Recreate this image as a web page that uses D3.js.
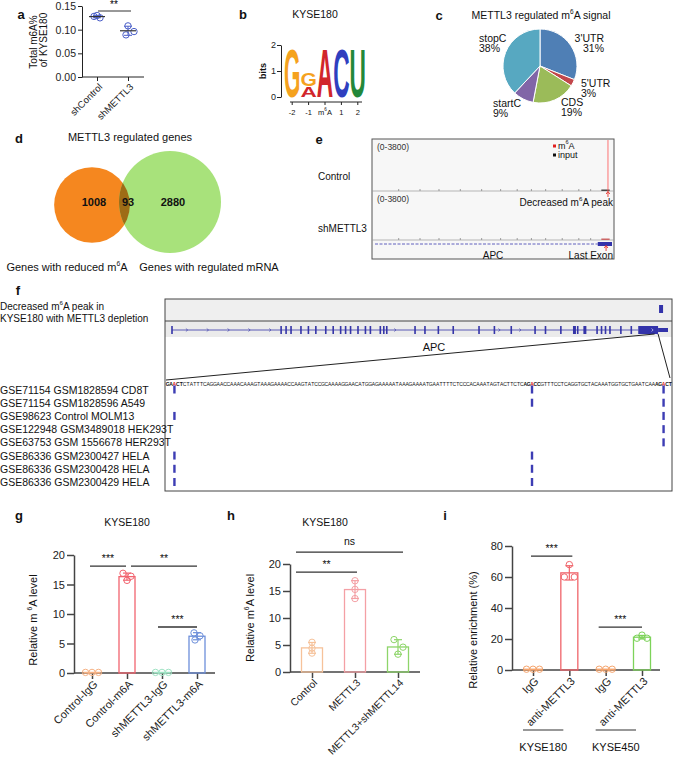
<!DOCTYPE html>
<html>
<head>
<meta charset="utf-8">
<script src="https://cdn.jsdelivr.net/npm/d3@7/dist/d3.min.js"></script>
<style>
  body { margin: 0; background: #fff; }
  text { font-family: "Liberation Sans", Arial, sans-serif; }
</style>
</head>
<body>
<div id="fig"></div>
<script>
// ---- a: total m6A ----
var aGroups = ["shControl", "shMETTL3"];
var aValues = [[0.128, 0.125, 0.130], [0.108, 0.096, 0.089]];
var aTicks = [0, 0.05, 0.10, 0.15];

// ---- b: motif logo ----
var logoPositions = ["-2", "-1", "m{6}A", "1", "2"];
var logoLetters = [["G"], ["A", "G"], ["A"], ["C"], ["U"]];
var logoBits = [[1.93], [0.42, 0.50], [1.93], [1.93], [1.93]];
var logoTicks = [0, 1, 2];

// ---- c: pie ----
var pieNames = ["3'UTR", "5'UTR", "CDS", "startC", "stopC"];
var pieShares = [31, 3, 19, 9, 38];

// ---- d: venn ----
var vennNames = ["Genes with reduced m{6}A", "Genes with regulated mRNA"];
var vennCounts = [1008, 93, 2880];

// ---- e: tracks ----
var eTracks = ["Control", "shMETTL3"];
var eRange = "(0-3800)";
var eBumps = [0.1, 0.19, 0.27, 0.36, 0.45, 0.53, 0.6, 0.66, 0.72, 0.79, 0.86, 0.91];

// ---- f: APC ----
var apcExons = [0, 22, 23, 24, 26, 27.5, 29, 31, 32.5, 34, 35, 36, 37.5, 39, 40, 42, 42.7, 43.3,
                49, 51, 53.7, 56.7, 61.9, 65, 68.4, 73.2, 75.3, 78.4, 81, 81.8, 83.1, 85.7, 86.6,
                87.4, 88.3, 90.5, 92.6];
var apcPeak = 98.6;
var apcSeq = "GAACTCTATTTCAGGAACCAAACAAAGTAAAGAAAACCAAGTATCCGCAAAAGGAACATGGAGAAAAATAAAGAAAATGAATTTTCTCCCACAAATAGTACTTCTCAGACCGTTTCCTCAGGTGCTACAAATGGTGCTGAATCAAAGACT";
var apcSites = [2, 108, 147];
var gseNames = ["GSE71154 GSM1828594 CD8T", "GSE71154 GSM1828596 A549", "GSE98623 Control MOLM13",
                "GSE122948 GSM3489018 HEK293T", "GSE63753 GSM 1556678 HER293T",
                "GSE86336 GSM2300427 HELA", "GSE86336 GSM2300428 HELA", "GSE86336 GSM2300429 HELA"];
var gseHits = [[0, 1, 2], [1, 2], [0, 2], [2], [2], [0, 1], [0, 1], [0, 1]];

// ---- g ----
var gGroups = ["Control-IgG", "Control-m6A", "shMETTL3-IgG", "shMETTL3-m6A"];
var gValues = [[0.1, 0.1, 0.1], [16.9, 16.4, 15.7], [0.1, 0.1, 0.1], [6.8, 6.3, 5.6]];
var gTicks = [0, 5, 10, 15, 20];
var gSig = [[0, 1, 18.1, "***"], [1, 3, 18.1, "**"], [2, 3, 7.8, "***"]];

// ---- h ----
var hGroups = ["Control", "METTL3", "METTL3+shMETTL14"];
var hValues = [[5.5, 4.4, 3.5], [16.9, 15.3, 13.6], [6.0, 4.6, 3.3]];
var hTicks = [0, 5, 10, 15, 20];
var hSig = [[0, 2, 22.2, "ns"], [0, 1, 18.5, "**"]];

// ---- i ----
var iGroups = ["IgG", "anti-METTL3", "IgG", "anti-METTL3"];
var iCells = ["KYSE180", "KYSE450"];
var iValues = [[0.5, 0.5, 0.5], [68, 60, 60], [0.5, 0.5, 0.5], [22.5, 20.5, 20.5]];
var iTicks = [0, 20, 40, 60, 80];
var iSig = [[0, 1, 73.5, "***"], [2, 3, 27.7, "***"]];

var svg = d3.select("#fig").append("svg").attr("width", 674).attr("height", 760);

// text with {x} as superscript
function rich(sel, str, fs) {
    var parts = str.split(/(\{[^}]*\})/).filter(function(s) { return s !== ""; });
    var shift = 0;
    parts.forEach(function(p) {
        var t = sel.append("tspan");
        if (p.charAt(0) === "{") {
            t.attr("dy", -fs * 0.4).attr("font-size", fs * 0.62).text(p.slice(1, -1));
            shift = fs * 0.4;
        } else {
            t.attr("dy", shift).text(p);
            shift = 0;
        }
    });
    return sel;
}

function label(x, y, str, fs, anchor, parent) {
    var t = (parent || svg).append("text").attr("x", x).attr("y", y)
        .attr("font-size", fs).attr("text-anchor", anchor || "start")
        .attr("dominant-baseline", "central").attr("fill", "#111");
    return rich(t, str, fs);
}

function panelLabel(t, x, y) {
    label(x, y, t, 13).attr("font-weight", "bold").attr("text-anchor", "middle");
}

function styleAxis(a, fs, col, w) {
    a.attr("font-family", null).attr("font-size", fs);
    a.selectAll("path, line").attr("stroke", col).attr("stroke-width", w);
    a.selectAll("text").attr("fill", "#222");
}

function drawA() {
    var g = svg.append("g");
    panelLabel("a", 21, 14);
    var y = d3.scaleLinear().domain([0, 0.15]).range([77, 6]);
    var x = d3.scalePoint().domain(aGroups).range([97, 128]);
    var ya = g.append("g").attr("transform", "translate(82,0)")
        .call(d3.axisLeft(y).tickValues(aTicks).tickFormat(d3.format(".2f")).tickSize(4).tickSizeOuter(0).tickPadding(2));
    styleAxis(ya, 10.5, "#222", 1);
    var xa = g.append("g").attr("transform", "translate(0,77)")
        .call(d3.axisBottom(x).tickSize(4));
    xa.select(".domain").remove();
    xa.append("line").attr("x1", 82).attr("x2", 144);
    styleAxis(xa, 9.5, "#222", 1);
    xa.selectAll(".tick text").attr("y", 0).attr("dy", null).attr("text-anchor", "end")
        .attr("dominant-baseline", "central").attr("transform", "translate(3,8) rotate(-45)");

    var jit = [[-3, 3, 0], [0, 6, -2]];
    aValues.forEach(function(v, i) {
        var cx = x(aGroups[i]), m = d3.mean(v), sd = d3.deviation(v);
        g.selectAll(null).data(v).enter().append("circle")
            .attr("cx", function(d, j) { return cx + jit[i][j]; })
            .attr("cy", function(d) { return y(d); })
            .attr("r", 3.2).attr("fill", "none").attr("stroke", "#4b5fc8").attr("stroke-width", 1);
        var eg = g.append("g").attr("stroke", "#4b5fc8").attr("stroke-width", 1);
        eg.append("line").attr("x1", cx).attr("x2", cx).attr("y1", y(m - sd)).attr("y2", y(m + sd));
        [m - sd, m + sd].forEach(function(e) {
            eg.append("line").attr("x1", cx - 4).attr("x2", cx + 4).attr("y1", y(e)).attr("y2", y(e));
        });
        g.append("line").attr("x1", cx - 8).attr("x2", cx + 8).attr("y1", y(m)).attr("y2", y(m))
            .attr("stroke", "#333").attr("stroke-width", 1.2);
    });
    g.append("line").attr("x1", 98).attr("x2", 131).attr("y1", 11).attr("y2", 11).attr("stroke", "#333");
    g.append("text").attr("x", 114).attr("y", 8).attr("text-anchor", "middle").attr("font-size", 10).text("**");
    label(0, 0, "Total m6A%", 10, "middle").attr("transform", "translate(33,42) rotate(-90)");
    label(0, 0, "of KYSE180", 10, "middle").attr("transform", "translate(43,40) rotate(-90)");
}

function drawB() {
    var g = svg.append("g");
    panelLabel("b", 243, 14);
    label(315, 14, "KYSE180", 10.5, "middle");
    var x = d3.scaleBand().domain(logoPositions).range([284, 366]);
    var y = d3.scaleLinear().domain([0, 2]).range([97, 45]);
    var colors = { G: "#f5a21e", A: "#d1262b", C: "#2f3fbf", U: "#23883a" };
    logoPositions.forEach(function(p, i) {
        var acc = 0;
        logoLetters[i].forEach(function(l, j) {
            var yb = y(acc), yt = y(acc + logoBits[i][j]);
            acc += logoBits[i][j];
            var t = g.append("text").attr("font-size", 10).attr("font-weight", "bold")
                .attr("fill", colors[l]).text(l);
            var w = t.node().getComputedTextLength();
            t.attr("transform", "translate(" + x(p) + "," + yb + ") scale(" + (x.bandwidth() / w) + "," + ((yb - yt) / 7.3) + ")");
        });
    });
    var ya = g.append("g").attr("transform", "translate(281,0)")
        .call(d3.axisLeft(y).tickValues(logoTicks).tickFormat(d3.format("d")).tickSize(4).tickSizeOuter(0).tickPadding(1));
    styleAxis(ya, 9, "#222", 1);
    g.append("line").attr("x1", 290).attr("x2", 362).attr("y1", 102).attr("y2", 102).attr("stroke", "#222");
    logoPositions.forEach(function(p) {
        var cx = x(p) + x.bandwidth() / 2;
        g.append("line").attr("x1", cx).attr("x2", cx).attr("y1", 102).attr("y2", 105).attr("stroke", "#222");
        label(cx, 112, p, 7.5, "middle", g);
    });
    label(0, 0, "bits", 9, "middle", g).attr("font-weight", "bold").attr("transform", "translate(263,71) rotate(-90)");
}

function drawC() {
    var g = svg.append("g");
    panelLabel("c", 439, 15);
    label(541, 15, "METTL3 regulated m{6}A signal", 10.5, "middle");
    var color = d3.scaleOrdinal().domain(pieNames).range(["#4f7fb5", "#c2474b", "#9bbb59", "#8165a7", "#57a8c1"]);
    var pie = d3.pie().sort(null).value(function(d) { return d; });
    var arc = d3.arc().innerRadius(0).outerRadius(37);
    g.append("g").attr("transform", "translate(540,66)")
        .selectAll("path").data(pie(pieShares)).enter().append("path")
        .attr("d", arc)
        .attr("fill", function(d, i) { return color(pieNames[i]); })
        .attr("stroke", "#fff").attr("stroke-width", 1);
    var spots = { "3'UTR": [604, 38, "end"], "5'UTR": [581, 83, "start"], "CDS": [561, 102, "start"],
                  "startC": [493, 103, "start"], "stopC": [479, 38, "start"] };
    pieNames.forEach(function(n, i) {
        var s = spots[n];
        label(s[0], s[1], n, 10.5, s[2], g);
        label(s[0], s[1] + 9.5, pieShares[i] + "%", 10.5, s[2], g);
    });
}

function drawD() {
    var g = svg.append("g");
    panelLabel("d", 19, 138);
    label(130, 137, "METTL3 regulated genes", 11, "middle");
    var totals = [vennCounts[0] + vennCounts[1], vennCounts[1] + vennCounts[2]];
    var r = d3.scalePow().exponent(0.3).domain([0, d3.max(totals)]).range([0, 51]);
    var c1 = [92, 205], c2 = [170, 202];
    g.append("defs").append("clipPath").attr("id", "vennClip")
        .append("circle").attr("cx", c1[0]).attr("cy", c1[1]).attr("r", r(totals[0]));
    g.append("circle").attr("cx", c1[0]).attr("cy", c1[1]).attr("r", r(totals[0])).attr("fill", "#f5871f");
    g.append("circle").attr("cx", c2[0]).attr("cy", c2[1]).attr("r", r(totals[1])).attr("fill", "#a8e27b");
    g.append("circle").attr("cx", c2[0]).attr("cy", c2[1]).attr("r", r(totals[1])).attr("fill", "#9e6c16")
        .attr("clip-path", "url(#vennClip)");
    var nx = [94, 128, 173];
    vennCounts.forEach(function(n, i) {
        label(nx[i], 202, String(n), 11, "middle", g).attr("font-weight", "bold");
    });
    label(67, 267, vennNames[0], 11, "middle", g);
    label(209, 267, vennNames[1], 11, "middle", g);
}

function arrowUp(g, x, y0, y1) {
    g.append("path").attr("d", "M" + x + "," + y0 + "L" + x + "," + y1 + "M" + (x - 1.8) + "," + (y1 + 2.5) + "L" + x + "," + y1 + "L" + (x + 1.8) + "," + (y1 + 2.5))
        .attr("stroke", "#e8322c").attr("stroke-width", 0.9).attr("fill", "none");
}

function drawE() {
    var g = svg.append("g");
    panelLabel("e", 319, 139);
    var bx = 372, by = 139, bw = 242, bh = 120;
    g.append("rect").attr("x", bx).attr("y", by).attr("width", bw).attr("height", bh)
        .attr("fill", "#f7f7f7").attr("stroke", "#555").attr("stroke-width", 1);
    var xe = d3.scaleLinear().domain([0, 1]).range([bx + 3, bx + bw - 2]);
    var tops = [by, 191], bases = [191, 240], labY = [176, 228];
    eTracks.forEach(function(name, i) {
        label(318, labY[i], name, 10, "start", g);
        label(bx + 5, tops[i] + 8, eRange, 8.5, "start", g).attr("font-family", "'Liberation Mono', monospace").attr("fill", "#333");
        g.append("line").attr("x1", bx).attr("x2", bx + bw).attr("y1", bases[i]).attr("y2", bases[i])
            .attr("stroke", "#9a9a9a").attr("stroke-width", 0.7);
        g.selectAll(null).data(eBumps).enter().append("line")
            .attr("x1", function(d) { return xe(d); }).attr("x2", function(d) { return xe(d); })
            .attr("y1", bases[i]).attr("y2", bases[i] - 2)
            .attr("stroke", "#888").attr("stroke-width", 0.8);
        g.append("rect").attr("x", xe(0.955)).attr("y", bases[i] - 1.5).attr("width", xe(0.99) - xe(0.955)).attr("height", 1.5)
            .attr("fill", i === 0 ? "#444" : "#c66");
    });
    g.append("line").attr("x1", xe(0.983)).attr("x2", xe(0.983)).attr("y1", by + 1).attr("y2", 191)
        .attr("stroke", "#ff5050").attr("stroke-width", 0.8);
    arrowUp(g, xe(0.983), 197, 191.5);
    label(613, 202, "Decreased m{6}A peak", 10, "end", g);
    // legend
    g.append("rect").attr("x", 553).attr("y", 144.5).attr("width", 3).attr("height", 3).attr("fill", "#e02020");
    label(558, 146, "m{6}A", 9, "start", g);
    g.append("rect").attr("x", 553).attr("y", 153.5).attr("width", 3).attr("height", 3).attr("fill", "#111");
    label(558, 155, "input", 9, "start", g);
    // gene
    g.append("line").attr("x1", xe(0)).attr("x2", xe(0.94)).attr("y1", 244).attr("y2", 244)
        .attr("stroke", "#3a3ab0").attr("stroke-width", 0.8).attr("stroke-dasharray", "3,1.5");
    g.append("rect").attr("x", xe(0.94)).attr("y", 242).attr("width", xe(1) - xe(0.94)).attr("height", 4).attr("fill", "#3333aa");
    arrowUp(g, xe(0.975), 251, 245.5);
    label(493, 255, "APC", 10, "middle", g);
    label(613, 255, "Last Exon", 10, "end", g);
}

function drawF() {
    var g = svg.append("g");
    panelLabel("f", 18, 290);
    label(0, 306, "Decreased m{6}A peak in", 10, "start", g);
    label(0, 318, "KYSE180 with METTL3 depletion", 10, "start", g);
    var bx = 165, by = 299, bw = 507, bh = 192;
    g.append("rect").attr("x", bx).attr("y", by).attr("width", bw).attr("height", bh).attr("fill", "#fff");
    g.append("rect").attr("x", bx).attr("y", by).attr("width", bw).attr("height", 22).attr("fill", "#efefef");
    g.append("rect").attr("x", bx).attr("y", 321).attr("width", bw).attr("height", 16).attr("fill", "#ebebeb");
    g.append("line").attr("x1", bx).attr("x2", bx + bw).attr("y1", 321).attr("y2", 321).attr("stroke", "#444");
    g.append("rect").attr("x", bx).attr("y", by).attr("width", bw).attr("height", bh)
        .attr("fill", "none").attr("stroke", "#444").attr("stroke-width", 1);

    var blue = "#3535a8";
    var xg = d3.scaleLinear().domain([0, 100]).range([172, 668]);
    g.append("rect").attr("x", xg(apcPeak) - 2).attr("y", 305).attr("width", 4).attr("height", 8).attr("fill", "#3333aa");
    g.append("line").attr("x1", xg(0)).attr("x2", xg(94)).attr("y1", 330).attr("y2", 330)
        .attr("stroke", blue).attr("stroke-width", 0.8);
    var chev = d3.range(3, 93, 4.2).filter(function(p) {
        return apcExons.every(function(e) { return Math.abs(e - p) > 0.9; });
    });
    g.selectAll(null).data(chev).enter().append("path")
        .attr("d", function(p) { var cx = xg(p); return "M" + (cx - 1) + ",328.5L" + (cx + 0.8) + ",330L" + (cx - 1) + ",331.5"; })
        .attr("stroke", blue).attr("stroke-width", 0.6).attr("fill", "none");
    g.selectAll(null).data(apcExons).enter().append("rect")
        .attr("x", function(p) { return xg(p) - 0.8; }).attr("y", 326)
        .attr("width", function(p) { return (p === 81 || p === 83.1) ? 3 : 1.6; }).attr("height", 8)
        .attr("fill", blue);
    g.append("rect").attr("x", xg(94)).attr("y", 326).attr("width", xg(98) - xg(94)).attr("height", 8).attr("fill", "#3333aa");
    g.append("rect").attr("x", xg(98)).attr("y", 328).attr("width", xg(100) - xg(98)).attr("height", 4).attr("fill", "#3333aa");
    g.append("path").attr("d", "M" + (xg(96.6) + 0.5) + ",328.5L" + (xg(96.6) + 2) + ",330L" + (xg(96.6) + 0.5) + ",331.5")
        .attr("stroke", "#fff").attr("stroke-width", 0.6).attr("fill", "none");
    label(434, 347, "APC", 11, "middle", g);

    var xs = d3.scaleLinear().domain([0, apcSeq.length]).range([166, 672]);
    g.append("line").attr("x1", xs(0)).attr("y1", 380).attr("x2", xg(97.3)).attr("y2", 334).attr("stroke", "#222").attr("stroke-width", 1);
    g.append("line").attr("x1", xg(98)).attr("y1", 334).attr("x2", xs(apcSeq.length) - 2).attr("y2", 378).attr("stroke", "#222").attr("stroke-width", 1);

    var chars = apcSeq.split("").map(function(c, i) {
        var near = apcSites.some(function(s) { return i >= s - 2 && i <= s + 2; });
        return { c: c, i: i, bold: near, red: apcSites.indexOf(i) >= 0 };
    });
    g.selectAll(null).data(chars).enter().append("text")
        .attr("x", function(d) { return xs(d.i + 0.5); }).attr("y", 384)
        .attr("text-anchor", "middle").attr("dominant-baseline", "central")
        .attr("font-size", 5).attr("font-family", "'Liberation Sans Narrow', 'Liberation Sans', Arial, sans-serif")
        .attr("font-weight", function(d) { return d.bold ? "bold" : "normal"; })
        .attr("fill", function(d) { return d.red ? "#e02020" : "#111"; })
        .text(function(d) { return d.c; });

    var ry = d3.scalePoint().domain(gseNames).range([389.5, 482]);
    gseNames.forEach(function(n, i) {
        label(0, ry(n), n, 10.5, "start", g);
        gseHits[i].forEach(function(k) {
            g.append("rect").attr("x", xs(apcSites[k] + 0.5) - 1.2).attr("y", ry(n) - 4)
                .attr("width", 2.4).attr("height", 8).attr("fill", "#3d3db4");
        });
    });
}

function drawBars(c) {
    var g = svg.append("g");
    var y = d3.scaleLinear().domain([0, c.ticks[c.ticks.length - 1]]).range(c.yRange);
    var keys = c.groups.map(function(d, i) { return "k" + i; });
    var x = d3.scalePoint().domain(keys).range(c.xRange);
    var base = c.yRange[0];

    var ya = g.append("g").attr("transform", "translate(" + c.axisX + ",0)")
        .call(d3.axisLeft(y).tickValues(c.ticks).tickSize(7).tickSizeOuter(0).tickPadding(2));
    styleAxis(ya, 11, "#444", 1.5);
    var xa = g.append("g").attr("transform", "translate(0," + base + ")")
        .call(d3.axisBottom(x).tickSize(6).tickFormat(function(d) { return c.groups[+d.slice(1)]; }));
    xa.select(".domain").remove();
    xa.append("line").attr("x1", c.axisX).attr("x2", c.axisEnd);
    styleAxis(xa, c.xFont, "#444", 1.5);
    xa.selectAll(".tick text").attr("y", 0).attr("dy", null).attr("text-anchor", "end")
        .attr("dominant-baseline", "central").attr("transform", "translate(3,9) rotate(-45)");

    var stats = c.values.map(function(v) { return { m: d3.mean(v), sd: d3.deviation(v) }; });
    g.selectAll(null).data(stats).enter().append("rect")
        .attr("x", function(d, i) { return x(keys[i]) - c.barW / 2; })
        .attr("y", function(d) { return y(d.m); })
        .attr("width", c.barW)
        .attr("height", function(d) { return base - y(d.m); })
        .attr("fill", "none")
        .attr("stroke", function(d, i) { return c.colors[i]; })
        .attr("stroke-width", 1.3);
    stats.forEach(function(s, i) {
        if (s.sd < 0.01) return;
        var cx = x(keys[i]);
        var eg = g.append("g").attr("stroke", c.colors[i]).attr("stroke-width", 1.2);
        eg.append("line").attr("x1", cx).attr("x2", cx).attr("y1", y(s.m - s.sd)).attr("y2", y(s.m + s.sd));
        [s.m - s.sd, s.m + s.sd].forEach(function(e) {
            eg.append("line").attr("x1", cx - 4).attr("x2", cx + 4).attr("y1", y(e)).attr("y2", y(e));
        });
    });
    c.values.forEach(function(v, i) {
        var flat = d3.deviation(v) < 0.01;
        g.selectAll(null).data(v).enter().append("circle")
            .attr("cx", function(d, j) { return x(keys[i]) + (flat ? (j - 1) * 6.5 : c.jitter[i][j]); })
            .attr("cy", function(d) { return y(d); })
            .attr("r", 3.2).attr("fill", "none")
            .attr("stroke", c.colors[i]).attr("stroke-width", 1);
    });
    c.sig.forEach(function(s, k) {
        var x1 = x(keys[s[0]]) + c.sigPad[k][0], x2 = x(keys[s[1]]) + c.sigPad[k][1], ly = y(s[2]);
        g.append("line").attr("x1", x1).attr("x2", x2).attr("y1", ly).attr("y2", ly)
            .attr("stroke", "#333").attr("stroke-width", 1.3);
        g.append("text").attr("x", (x1 + x2) / 2).attr("y", ly - (s[3] === "ns" ? 7 : 4))
            .attr("text-anchor", "middle").attr("font-size", 10.5).attr("fill", "#111").text(s[3]);
    });
    panelLabel(c.letter, c.letterX, 515);
    if (c.title) label(c.titleX, 522, c.title, 10.5, "middle", g);
    label(0, 0, c.yLabel, 11, "middle", g).attr("transform", "translate(" + c.yLabelX + "," + c.yLabelY + ") rotate(-90)");
    return { g: g, x: x, keys: keys };
}

drawA();
drawB();
drawC();
drawD();
drawE();
drawF();

drawBars({
    letter: "g", letterX: 19, title: "KYSE180", titleX: 127,
    groups: gGroups, values: gValues, ticks: gTicks, sig: gSig,
    sigPad: [[-2, -1], [4, 0], [-4, 0]],
    colors: ["#f6b183", "#f2646f", "#9fe3c4", "#6d8fda"],
    jitter: [[0, 0, 0], [-4, 4, 0], [0, 0, 0], [-3, 3, -2]],
    yRange: [673, 555], xRange: [92, 197], axisX: 74, axisEnd: 215, barW: 16, xFont: 11,
    yLabel: "Relative m {6}A level", yLabelX: 33, yLabelY: 620
});

drawBars({
    letter: "h", letterX: 231, title: "KYSE180", titleX: 325,
    groups: hGroups, values: hValues, ticks: hTicks, sig: hSig,
    sigPad: [[-16, 5], [-16, 2]],
    colors: ["#f6c29a", "#f4a0a5", "#8ed56a"],
    jitter: [[0, 0, 0], [0, 0, 0], [-4, 5, 0]],
    yRange: [672, 564], xRange: [312, 398], axisX: 290, axisEnd: 420, barW: 21, xFont: 10.3,
    yLabel: "Relative m{6}A level", yLabelX: 250, yLabelY: 618
});

var iPanel = drawBars({
    letter: "i", letterX: 445, title: null,
    groups: iGroups, values: iValues, ticks: iTicks, sig: iSig,
    sigPad: [[-2, 3], [-7, 0]],
    colors: ["#f5a56e", "#f0646a", "#f5a56e", "#7dd35a"],
    jitter: [[0, 0, 0], [0, -5, 5], [0, 0, 0], [0, -5, 5]],
    yRange: [670, 546], xRange: [533, 642], axisX: 512, axisEnd: 660, barW: 17, xFont: 11,
    yLabel: "Relative enrichment (%)", yLabelX: 473, yLabelY: 630
});
iCells.forEach(function(cell, k) {
    var xa = iPanel.x(iPanel.keys[2 * k]) - 10, xb = iPanel.x(iPanel.keys[2 * k + 1]) - 6;
    iPanel.g.append("line").attr("x1", xa).attr("x2", xb).attr("y1", 730).attr("y2", 730)
        .attr("stroke", "#333").attr("stroke-width", 1.2);
    label((xa + xb) / 2, 747, cell, 11, "middle", iPanel.g);
});
</script>
</body>
</html>
